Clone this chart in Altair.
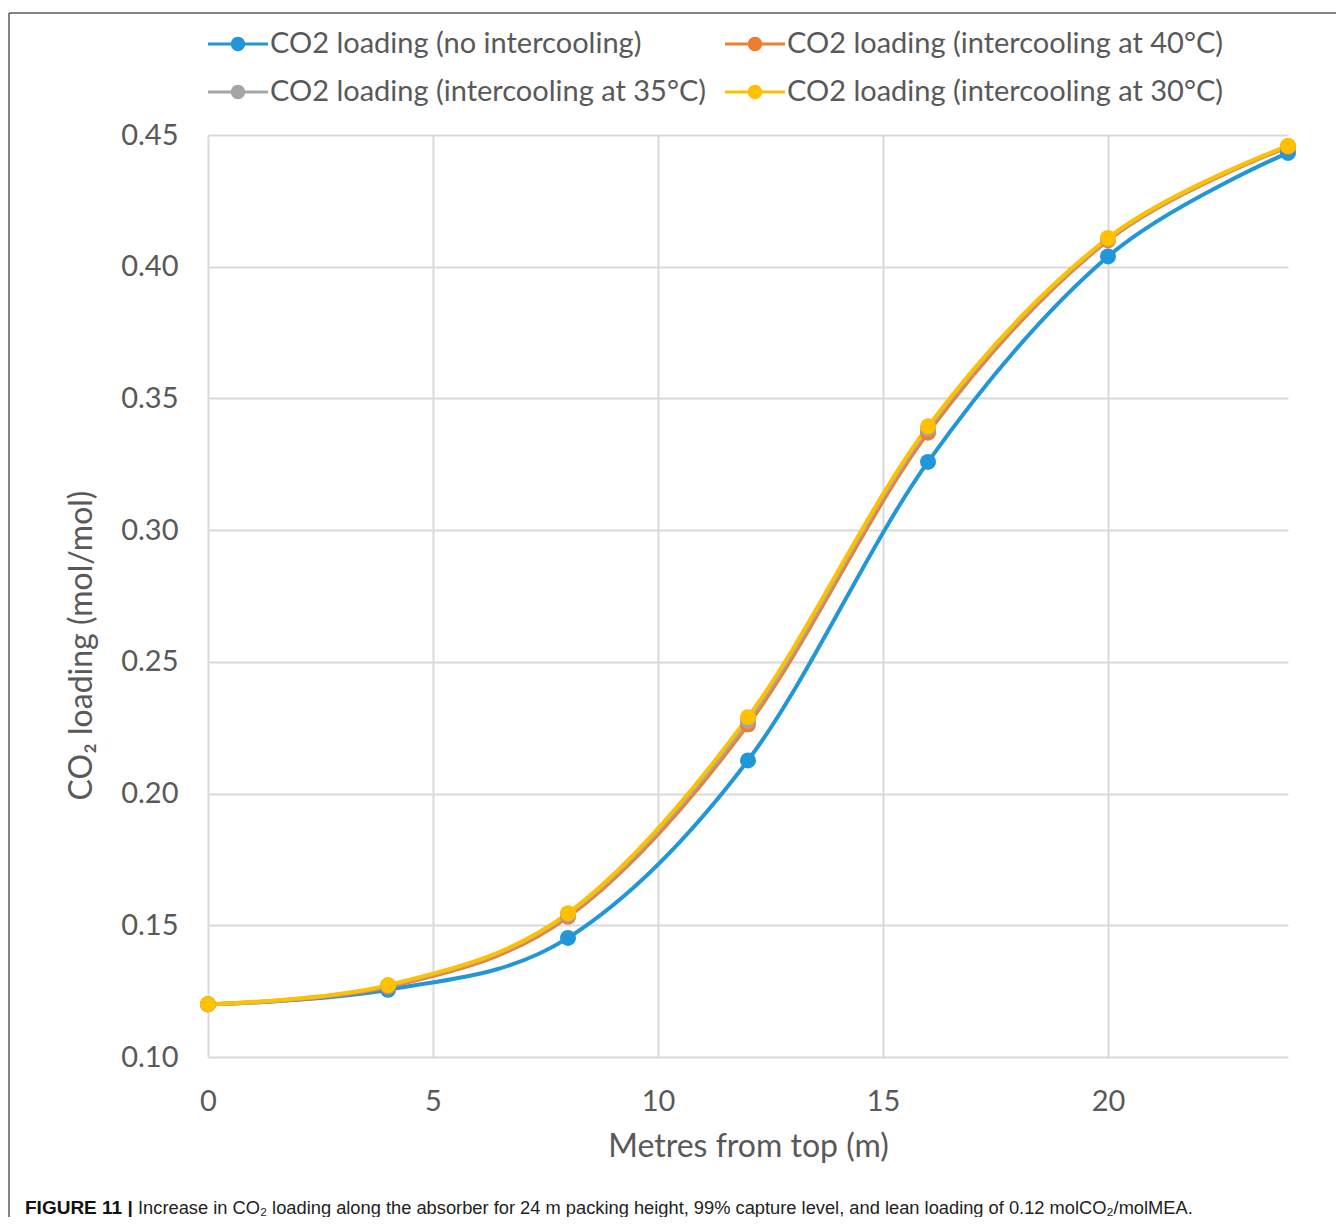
import altair as alt
import pandas as pd

# ---- data ----
metres = [0, 4, 8, 12, 16, 20, 24]
series_names = [
    "CO2 loading (no intercooling)",
    "CO2 loading (intercooling at 40°C)",
    "CO2 loading (intercooling at 35°C)",
    "CO2 loading (intercooling at 30°C)",
]
no_intercooling = [0.1200, 0.1255, 0.1452, 0.2126, 0.3259, 0.4039, 0.4432]
intercool_40 = [0.1200, 0.1266, 0.1532, 0.2262, 0.3370, 0.4100, 0.4454]
intercool_35 = [0.1200, 0.1270, 0.1540, 0.2276, 0.3384, 0.4105, 0.4457]
intercool_30 = [0.1200, 0.1273, 0.1546, 0.2290, 0.3394, 0.4109, 0.4459]
series_colors = ["#2196D8", "#ED7D31", "#A5A5A5", "#FFC000"]
x_ticks = [0, 5, 10, 15, 20]
y_ticks = [0.10, 0.15, 0.20, 0.25, 0.30, 0.35, 0.40, 0.45]

caption_bold = "FIGURE 11 |"
caption_text = ("Increase in CO\u2082 loading along the absorber for 24 m packing height, "
                "99% capture level, and lean loading of 0.12 molCO\u2082/molMEA.")

rows = []
for k, (name, vals) in enumerate(zip(series_names, [no_intercooling, intercool_40, intercool_35, intercool_30])):
    for m, v in zip(metres, vals):
        rows.append({"series": name, "metres": m, "loading": v, "order": k})
df = pd.DataFrame(rows)

FONT = "Lato"
W, H = 1080, 922

xenc = alt.X(
    "metres:Q",
    scale=alt.Scale(domain=[0, 24], nice=False, zero=False),
    axis=alt.Axis(values=x_ticks, title="Metres from top (m)", format="d", labelFlush=False),
)
yenc = alt.Y(
    "loading:Q",
    scale=alt.Scale(domain=[0.10, 0.45], nice=False, zero=False),
    axis=alt.Axis(values=y_ticks, title="CO\u2082 loading (mol/mol)", format=".2f",
                  titleX=-110, titleY=510, labelFlush=False),
)

legend_path = ("M-1,-0.05H1V0.05H-1Z"
               "M0.24,0A0.24,0.24,0,1,1,-0.24,0A0.24,0.24,0,1,1,0.24,0Z")

legend = alt.Legend(
    title=None, orient="none", legendX=0, legendY=-121, columns=2,
    direction="horizontal",
    symbolType=legend_path, symbolSize=3600, symbolStrokeWidth=0,
    symbolOpacity=1,
    labelFont=FONT, labelFontSize=29, labelColor="#595959", labelOffset=2,
    columnPadding=18, rowPadding=3, labelLimit=600,
)

color_enc = alt.Color(
    "series:N",
    scale=alt.Scale(domain=series_names, range=series_colors),
    sort=series_names,
    legend=legend,
)

lines = alt.Chart(df).mark_line(interpolate="cardinal", tension=0, strokeWidth=4).encode(
    x=xenc, y=yenc, color=color_enc,
    order=alt.Order("order:Q"),
)

points = alt.Chart(df).mark_point(filled=True, size=256, opacity=1).encode(
    x=xenc, y=yenc, color=color_enc,
    order=alt.Order("order:Q"),
)

# decorative frame (left and top border of the figure box)
frame_top = alt.Chart(pd.DataFrame({"a": [0]})).mark_rule(color="#5a5a5a", strokeWidth=1.5).encode(
    x=alt.value(-199), x2=alt.value(1140), y=alt.value(-122)
)
frame_left = alt.Chart(pd.DataFrame({"a": [0]})).mark_rule(color="#5a5a5a", strokeWidth=1.5).encode(
    x=alt.value(-199), y=alt.value(-122), y2=alt.value(1090)
)

cap_bold = alt.Chart(pd.DataFrame({"t": [caption_bold]})).mark_text(
    align="left", baseline="alphabetic", font="Liberation Sans", fontSize=19,
    fontWeight="bold", color="#111111"
).encode(text="t:N", x=alt.value(-183), y=alt.value(1079))
cap_text = alt.Chart(pd.DataFrame({"t": [caption_text]})).mark_text(
    align="left", baseline="alphabetic", font="Liberation Sans", fontSize=18.3,
    color="#222222"
).encode(text="t:N", x=alt.value(-70), y=alt.value(1079))

chart = alt.layer(frame_top, frame_left, lines, points, cap_bold, cap_text).properties(
    width=W, height=H,
    padding={"left": 200, "top": 127, "right": 48, "bottom": 160},
    autosize=alt.AutoSizeParams(type="none"),
    background="white",
).configure_view(stroke=None).configure_axis(
    grid=True, gridColor="#D9D9D9", gridWidth=2,
    domain=False, ticks=False,
    labelFont=FONT, labelFontSize=29, labelColor="#595959",
    titleFont=FONT, titleFontSize=32, titleColor="#595959", titleFontWeight="normal",
).configure_axisX(
    labelPadding=30, titlePadding=15,
).configure_axisY(
    labelPadding=30,
)

chart.save("out.html", embed_options={"renderer": "svg", "actions": False})
